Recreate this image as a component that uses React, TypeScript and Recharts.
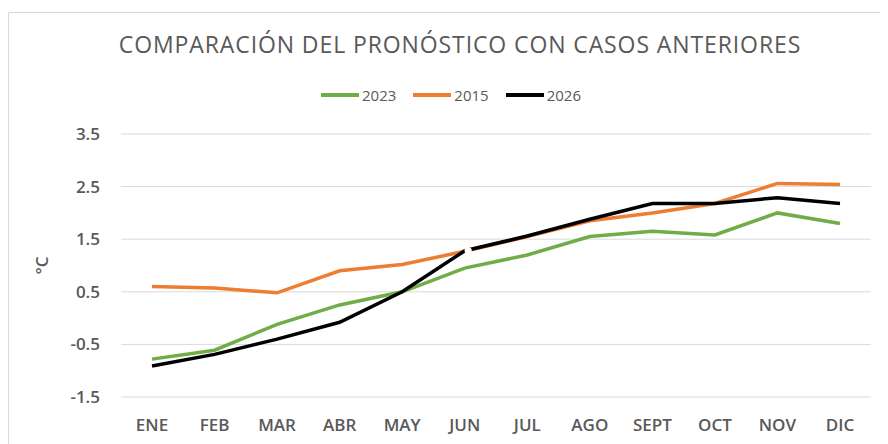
import { LineChart, Line, XAxis, YAxis, CartesianGrid } from "recharts";

const months = ["ENE", "FEB", "MAR", "ABR", "MAY", "JUN", "JUL", "AGO", "SEPT", "OCT", "NOV", "DIC"];
const y2023 = [-0.78, -0.61, -0.12, 0.25, 0.5, 0.95, 1.2, 1.55, 1.65, 1.58, 2.0, 1.8];
const y2015 = [0.6, 0.57, 0.48, 0.9, 1.02, 1.27, 1.55, 1.85, 2.0, 2.18, 2.56, 2.54];
// 2026 is drawn in two pieces (they meet at JUN)
const y2026a = [-0.91, -0.69, -0.4, -0.08, 0.5, 1.28, null, null, null, null, null, null];
const y2026b = [null, null, null, null, null, 1.28, 1.56, 1.88, 2.18, 2.18, 2.29, 2.18];
const yTicks = [-1.5, -0.5, 0.5, 1.5, 2.5, 3.5];

const series = [
  { key: "s2023", name: "2023", color: "#70ad47" },
  { key: "s2015", name: "2015", color: "#ed7d31" },
  { key: "s2026", name: "2026", color: "#000000" },
];

const data = months.map((m, i) => ({
  month: m,
  s2023: y2023[i],
  s2015: y2015[i],
  s2026: y2026a[i],
  s2026b: y2026b[i],
}));

const gray = "#595959";
const font = "'Open Sans', sans-serif";

// small white break where the second 2026 piece starts
const breakDot = (props: any) => {
  if (props.index !== 5 || props.cx == null) return <g key={props.index} />;
  return <circle key={props.index} cx={props.cx + 3.5} cy={props.cy} r={3.6} fill="#fff" stroke="none" />;
};

export default function App() {
  return (
    <div style={{ position: "relative", width: 880, height: 436, fontFamily: font, background: "#fff" }}>
      <div
        style={{
          position: "absolute",
          left: 0,
          top: 4,
          width: 876,
          height: 440,
          border: "1px solid #d9d9d9",
          borderBottom: "none",
          borderRadius: 2,
        }}
      />
      <div
        style={{
          position: "absolute",
          left: 0,
          width: 904,
          top: 20,
          textAlign: "center",
          fontSize: 23,
          color: gray,
          letterSpacing: 0.9,
        }}
      >
        COMPARACIÓN DEL PRONÓSTICO CON CASOS ANTERIORES
      </div>
      <div
        style={{
          position: "absolute",
          left: 0,
          width: 886,
          top: 77,
          display: "flex",
          justifyContent: "center",
          gap: 17,
          fontSize: 15,
          color: gray,
        }}
      >
        {series.map((s) => (
          <div key={s.key} style={{ display: "flex", alignItems: "center" }}>
            <span style={{ display: "inline-block", width: 38, height: 4, background: s.color, marginRight: 3 }} />
            <span>{s.name}</span>
          </div>
        ))}
      </div>
      <div
        style={{
          position: "absolute",
          left: 24,
          top: 246,
          fontSize: 17,
          fontWeight: 600,
          color: gray,
          transform: "rotate(-90deg)",
        }}
      >
        °C
      </div>
      <LineChart
        width={880}
        height={436}
        data={data}
        margin={{ top: 126, right: 17, bottom: 17, left: 53 }}
        style={{ position: "absolute", left: 0, top: 0 }}
      >
        <CartesianGrid vertical={false} stroke="#d9d9d9" strokeWidth={1} />
        <XAxis
          dataKey="month"
          axisLine={false}
          tickLine={false}
          height={30}
          tickMargin={16}
          interval={0}
          padding={{ left: 31, right: 31 }}
          tick={{ fill: gray, fontSize: 17, fontWeight: 600, fontFamily: font }}
        />
        <YAxis
          domain={[-1.5, 3.5]}
          ticks={yTicks}
          axisLine={false}
          tickLine={false}
          width={60}
          tickMargin={15}
          tick={{ fill: gray, fontSize: 17, fontWeight: 600, fontFamily: font }}
        />
        {series.map((s) => (
          <Line
            key={s.key}
            type="linear"
            dataKey={s.key}
            name={s.name}
            stroke={s.color}
            strokeWidth={3.5}
            dot={false}
            activeDot={false}
            connectNulls={false}
            isAnimationActive={false}
          />
        ))}
        <Line
          type="linear"
          dataKey="s2026b"
          name="2026"
          legendType="none"
          stroke="#000000"
          strokeWidth={3.5}
          dot={breakDot}
          activeDot={false}
          isAnimationActive={false}
        />
      </LineChart>
    </div>
  );
}
